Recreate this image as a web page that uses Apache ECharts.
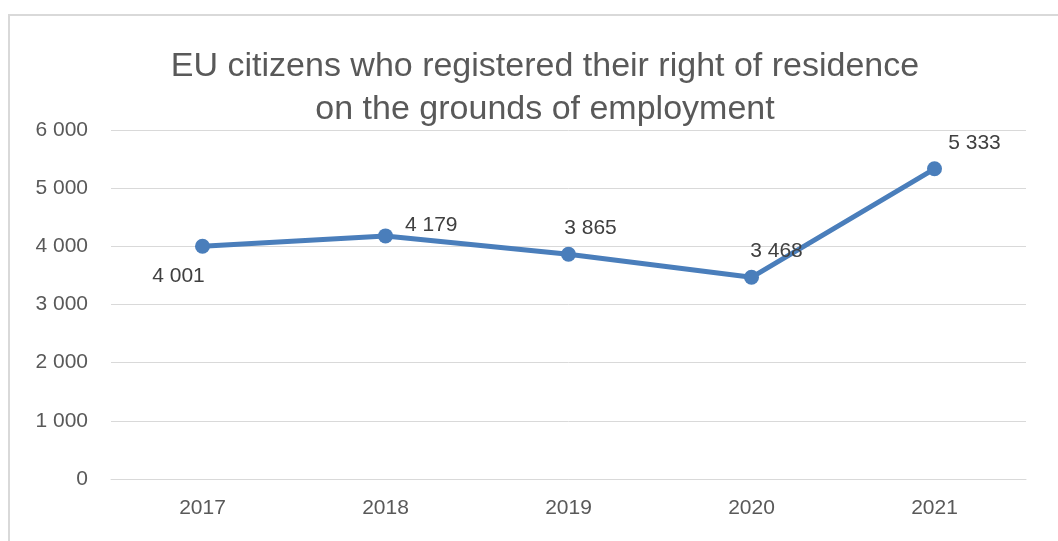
<!DOCTYPE html>
<html>
<head>
<meta charset="utf-8">
<script src="https://cdn.jsdelivr.net/npm/echarts@6/dist/echarts.min.js"></script>
<style>
  html, body { margin: 0; padding: 0; background: #fff; }
  #main { width: 1058px; height: 541px; }
</style>
</head>
<body>
<div id="main"></div>
<script>
var years = ['2017', '2018', '2019', '2020', '2021'];
var registrations = [4001, 4179, 3865, 3468, 5333];
var yTicks = [0, 1000, 2000, 3000, 4000, 5000, 6000];
// where each value label sits relative to its point
var labelPlaces = ['bottom', 'right', 'top', 'top', 'top'];
var labelShifts = [[-24, 7], [7, -11], [22, -3], [25, -3], [40, -3]];

function spaced(v) {
  return String(v).replace(/\B(?=(\d{3})+(?!\d))/g, ' ');
}

var myChart = echarts.init(document.getElementById('main'));
var points = [];
for (var i = 0; i < registrations.length; i++) {
  points.push({
    value: registrations[i],
    label: { position: labelPlaces[i], offset: labelShifts[i] }
  });
}

var option = {
  animation: false,
  textStyle: { fontFamily: 'Liberation Sans' },
  graphic: [{
    type: 'rect',
    shape: { x: 9, y: 15, width: 1200, height: 700 },
    style: { fill: 'none', stroke: '#d9d9d9', lineWidth: 2 },
    silent: true
  }],
  title: {
    text: 'EU citizens who registered their right of residence\non the grounds of employment',
    left: 540,
    textAlign: 'center',
    top: 40,
    textStyle: {
      fontFamily: 'Liberation Sans',
      fontSize: 34,
      fontWeight: 'normal',
      color: '#595959',
      lineHeight: 43
    }
  },
  grid: { left: 111, right: 32, top: 130, bottom: 62 },
  xAxis: {
    type: 'category',
    data: years,
    boundaryGap: true,
    axisLine: { lineStyle: { color: '#d9d9d9', width: 1 } },
    axisTick: { show: false },
    axisLabel: { color: '#595959', fontSize: 21, margin: 19 }
  },
  yAxis: {
    type: 'value',
    min: yTicks[0],
    max: yTicks[yTicks.length - 1],
    interval: 1000,
    axisLine: { show: false },
    axisTick: { show: false },
    splitLine: { lineStyle: { color: '#d9d9d9', width: 1 } },
    axisLabel: {
      color: '#595959',
      fontSize: 21,
      margin: 23,
      formatter: function (v) { return spaced(v); }
    }
  },
  series: [{
    type: 'line',
    data: points,
    symbol: 'circle',
    symbolSize: 15,
    lineStyle: { color: '#4a7ebb', width: 5 },
    itemStyle: { color: '#4a7ebb' },
    label: {
      show: true,
      color: '#404040',
      fontSize: 21,
      formatter: function (p) { return spaced(p.value); }
    }
  }]
};
myChart.setOption(option);
</script>
</body>
</html>
